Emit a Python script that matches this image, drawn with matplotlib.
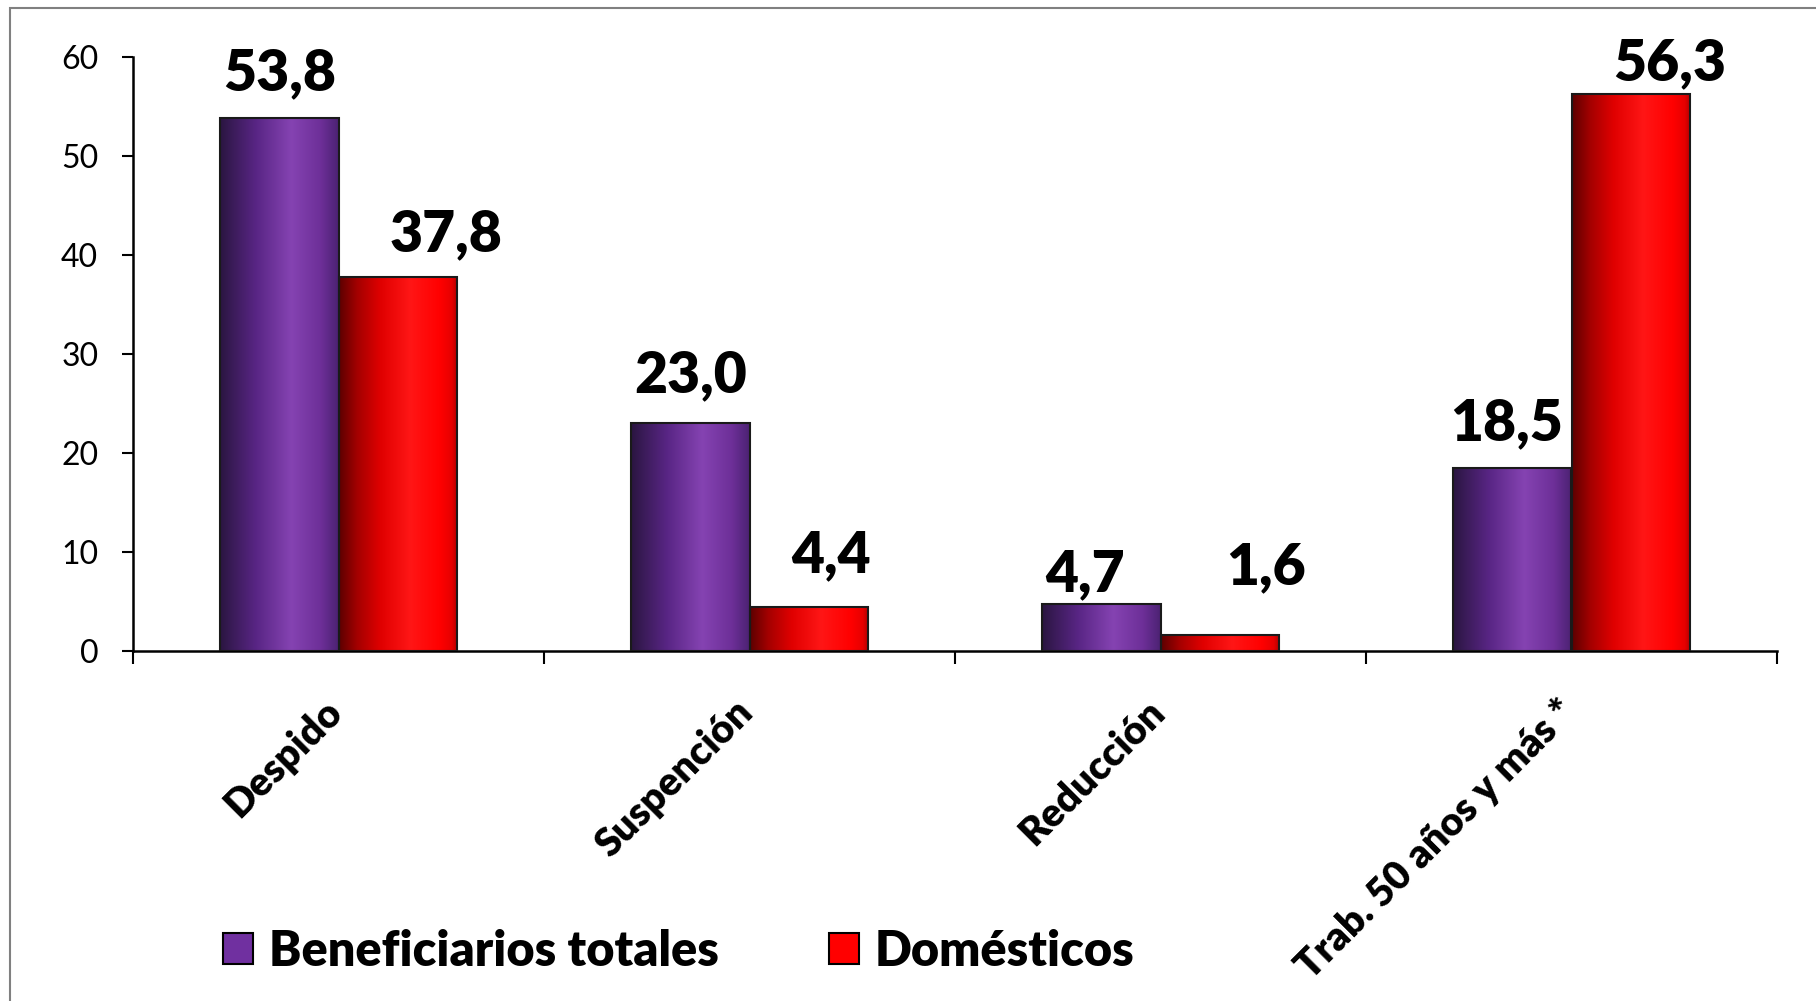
import numpy as np
import matplotlib
matplotlib.use("Agg")
from matplotlib import pyplot as plt
from matplotlib.colors import LinearSegmentedColormap
from matplotlib.patches import Patch, Rectangle

categories = ["Despido", "Suspención", "Reducción", "Trab. 50 años y más *"]
series_names = ["Beneficiarios totales", "Domésticos"]
beneficiarios = [53.8, 23.0, 4.7, 18.5]
domesticos = [37.8, 4.4, 1.6, 56.3]

# manual label nudges (pixels) as in the original slide
label_dx = [[0, 0, -16, -6], [48, 22, 46, 39]]
label_dy = [[28, 31, 13, 28], [26, 35, 51, 13]]

plt.rcParams["font.family"] = ["Lato", "DejaVu Sans"]
BOLD = "heavy"

purple_cmap = LinearSegmentedColormap.from_list("purple", [
    (0.0, "#2a1540"), (0.12, "#3d1c5c"), (0.3, "#582584"),
    (0.6, "#8543b2"), (0.85, "#6d2f98"), (1.0, "#4b2272")])
red_cmap = LinearSegmentedColormap.from_list("red", [
    (0.0, "#5c0000"), (0.15, "#a30000"), (0.35, "#e00000"),
    (0.6, "#ff1616"), (0.85, "#ff0000"), (0.95, "#e60000"), (1.0, "#b00000")])

fig = plt.figure(figsize=(18.16, 10.01), dpi=100)
fig.patches.append(Rectangle((10 / 1816, -0.1), 1.1, 1.1 - 8 / 1001,
                             transform=fig.transFigure, fill=False,
                             edgecolor="#808080", linewidth=1.5))
ax = fig.add_axes([133 / 1816, 350 / 1001, 1644 / 1816, 594 / 1001])

x = np.arange(len(categories))
w = 0.288
grad = np.linspace(0, 1, 256).reshape(1, -1)

for k, (vals, cmap) in enumerate([(beneficiarios, purple_cmap), (domesticos, red_cmap)]):
    bars = ax.bar(x + (k - 0.5) * w, vals, width=w, facecolor="none",
                  edgecolor="#1a1a1a", linewidth=1.5, zorder=3)
    for j, b in enumerate(bars):
        im = ax.imshow(grad, cmap=cmap, aspect="auto", zorder=2,
                       extent=[b.get_x(), b.get_x() + b.get_width(), 0, b.get_height()])
        im.set_clip_path(b)
        ax.annotate(f"{vals[j]:.1f}".replace(".", ","),
                    (b.get_x() + b.get_width() / 2, b.get_height()),
                    xytext=(label_dx[k][j], label_dy[k][j]), textcoords="offset pixels",
                    ha="center", va="baseline", fontsize=41, fontweight=BOLD)

ax.set_xlim(-0.5, len(categories) - 0.5)
ax.set_ylim(0, 60)
ax.set_yticks(range(0, 61, 10))
ax.tick_params(axis="y", length=8, width=1.5, pad=17, labelsize=23)
ax.set_xticks(np.arange(-0.5, len(categories), 1))
ax.set_xticklabels([])
ax.tick_params(axis="x", length=9, width=1.5)
for s in ["top", "right"]:
    ax.spines[s].set_visible(False)
for s in ["left", "bottom"]:
    ax.spines[s].set_linewidth(1.8)

for i, c in enumerate(categories):
    ax.annotate(c, (i, 0), xytext=(-2, -55), textcoords="offset pixels",
                rotation=45, rotation_mode="anchor", ha="right", va="center",
                fontsize=28.5, fontweight=BOLD, annotation_clip=False)

handles = [Patch(facecolor="#7030A0", edgecolor="black", linewidth=1.5),
           Patch(facecolor="#ff0000", edgecolor="black", linewidth=1.5)]
fig.legend(handles, series_names, loc="center left",
           bbox_to_anchor=(199 / 1816, 1 - 951 / 1001), frameon=False, ncol=2,
           borderpad=0, handlelength=0.62, handleheight=0.62, handletextpad=0.33,
           columnspacing=2.25, prop={"weight": BOLD, "size": 35})

fig.savefig("out.png", dpi=100)
